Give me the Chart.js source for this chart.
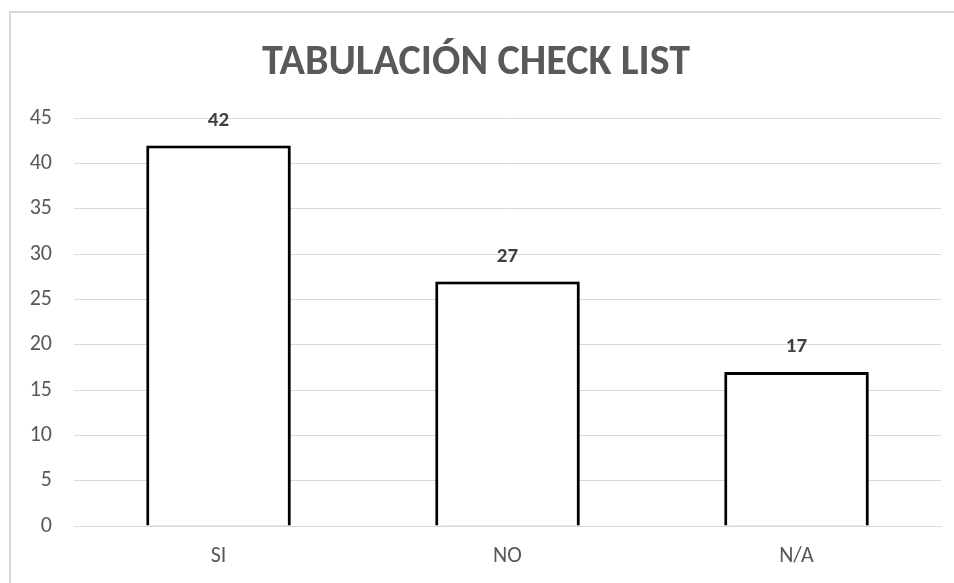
<!DOCTYPE html>
<html>
<head>
<meta charset="utf-8">
<script src="https://cdn.jsdelivr.net/npm/chart.js@4"></script>
<style>
  html, body { margin: 0; padding: 0; background: #fff; }
  #frame {
    position: absolute; left: 9px; top: 11px;
    width: 943px; height: 570px;
    border-top: 2px solid #d9d9d9; border-left: 2px solid #d9d9d9;
  }
</style>
</head>
<body>
<div id="frame"><canvas id="bar-chart" width="943" height="570"></canvas></div>
<script>
  var categories = ['SI', 'NO', 'N/A'];
  var values = [42, 27, 17];
  var yTicks = [0, 5, 10, 15, 20, 25, 30, 35, 40, 45];

  var FONT = 'Carlito, Lato, sans-serif';
  var GRAY = '#595959';

  // little labels over each bar, like excel does
  var valueLabels = {
    id: 'valueLabels',
    beforeDatasetsDraw: function(chart) {
      var ctx = chart.ctx;
      ctx.save();
      ctx.shadowColor = 'rgba(0,0,0,0.35)';
      ctx.shadowBlur = 6;
      ctx.shadowOffsetX = 2;
      ctx.shadowOffsetY = 1;
    },
    afterDatasetsDraw: function(chart) {
      var ctx = chart.ctx;
      ctx.restore();
      ctx.save();
      ctx.font = 'bold 21px ' + FONT;
      ctx.fillStyle = '#404040';
      ctx.textAlign = 'center';
      ctx.textBaseline = 'middle';
      chart.getDatasetMeta(0).data.forEach(function(bar, i) {
        ctx.fillText(values[i], bar.x, bar.y - 25);
      });
      ctx.restore();
    }
  };

  new Chart(document.getElementById('bar-chart').getContext('2d'), {
    type: 'bar',
    data: {
      labels: categories,
      datasets: [{
        data: values,
        backgroundColor: '#ffffff',
        borderColor: '#000000',
        borderWidth: 3,
        borderSkipped: 'bottom',
        categoryPercentage: 1,
        barPercentage: 0.5
      }]
    },
    options: {
      responsive: false,
      animation: false,
      layout: { padding: { left: 0, right: 13, top: 0, bottom: 0 } },
      plugins: {
        legend: { display: false },
        tooltip: { enabled: false },
        title: {
          display: true,
          text: 'TABULACIÓN CHECK LIST',
          color: GRAY,
          font: { family: FONT, size: 42, weight: 'bold' },
          padding: { top: 25, bottom: 30 }
        }
      },
      scales: {
        x: {
          grid: { display: false },
          border: { color: '#d9d9d9' },
          ticks: { color: GRAY, font: { family: FONT, size: 22 }, padding: 9 },
          afterFit: function(scale) { scale.height = 57; }
        },
        y: {
          min: 0,
          max: 45,
          afterBuildTicks: function(scale) {
            scale.ticks = yTicks.map(function(v) { return { value: v }; });
          },
          grid: { color: '#d9d9d9', drawTicks: false },
          border: { display: false },
          ticks: { color: GRAY, font: { family: FONT, size: 22 }, padding: 22 },
          afterFit: function(scale) { scale.width = 63; }
        }
      }
    },
    plugins: [valueLabels]
  });
</script>
</body>
</html>
